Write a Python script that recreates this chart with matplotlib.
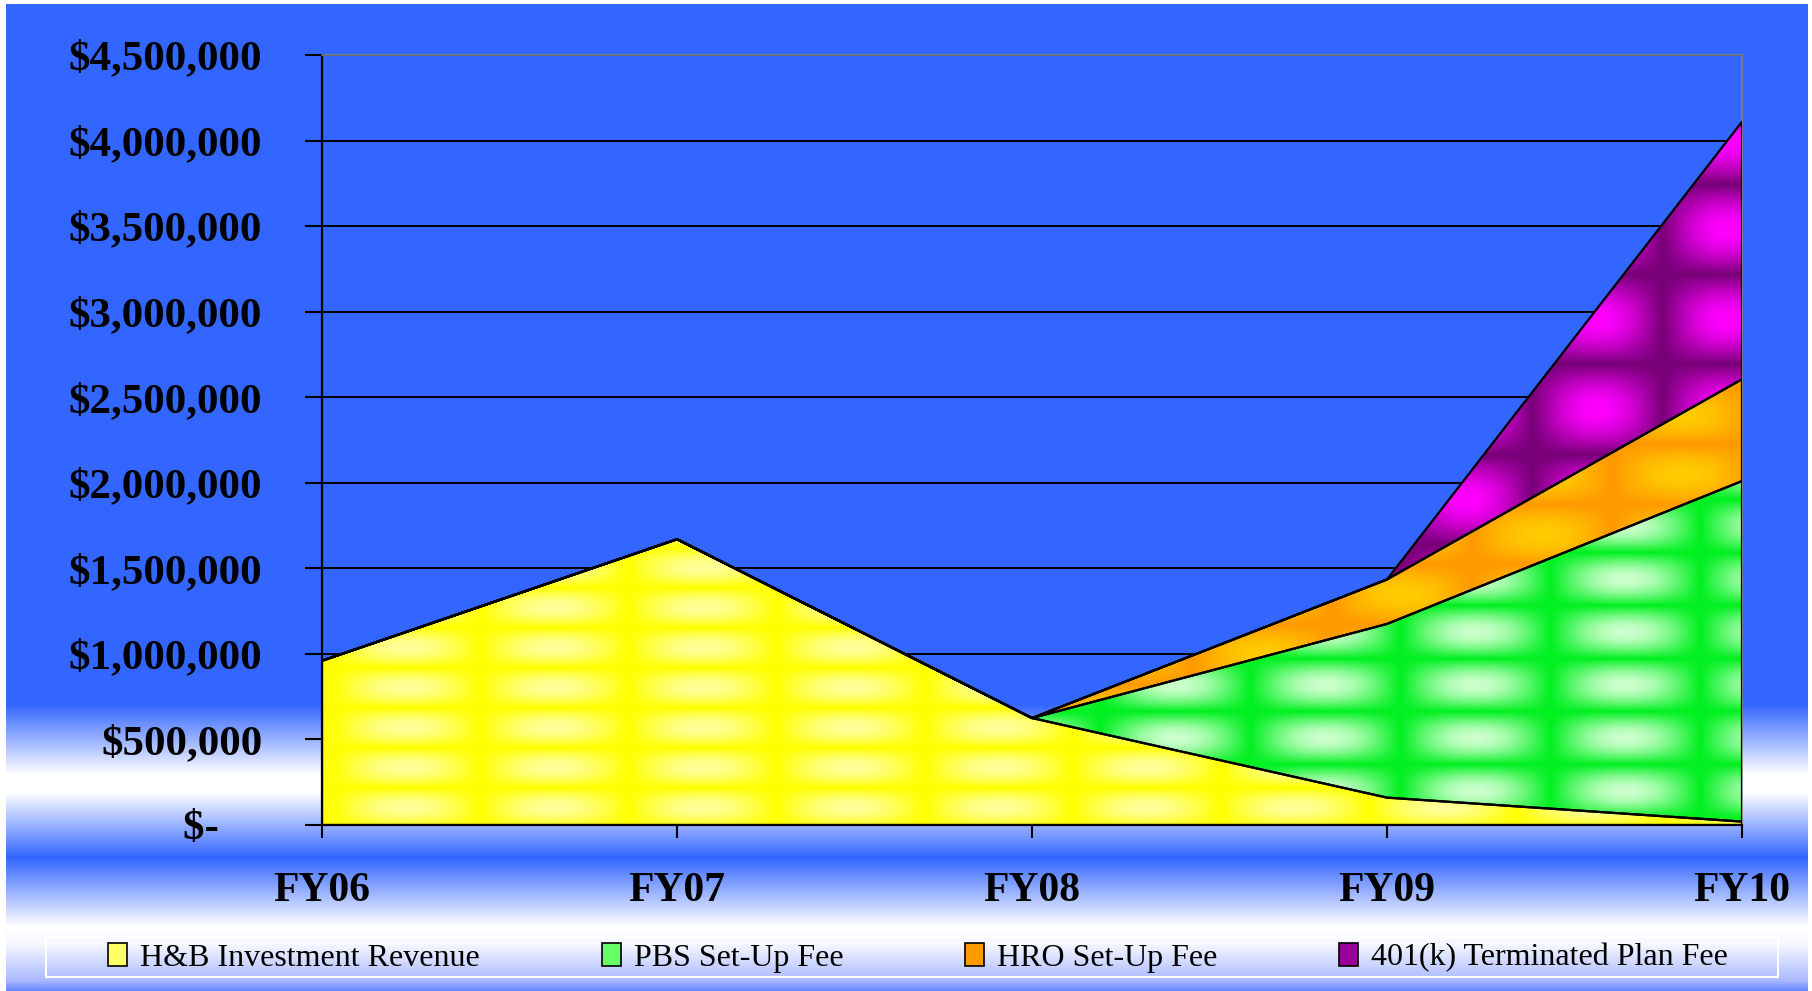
import numpy as np
import matplotlib
matplotlib.use("Agg")
import matplotlib.pyplot as plt
from matplotlib.patches import Patch, Rectangle
from matplotlib.ticker import FuncFormatter, MultipleLocator

# chart data
years = ["FY06", "FY07", "FY08", "FY09", "FY10"]
hb_revenue = [960000, 1670000, 625000, 160000, 20000]
pbs_fee = [0, 0, 0, 1015000, 1990000]
hro_fee = [0, 0, 0, 260000, 595000]
plan_fee = [0, 0, 0, 0, 1505000]
series_names = ["H&B Investment Revenue", "PBS Set-Up Fee",
                "HRO Set-Up Fee", "401(k) Terminated Plan Fee"]

W, H = 1812, 991
serif = "Liberation Serif"

fig = plt.figure(figsize=(W / 100, H / 100), dpi=100, facecolor="white")

# background: blue slide with white bands near the bottom
bg = fig.add_axes([6 / W, 0, 1802 / W, 987 / H], zorder=-1)
bg.axis("off")
stop_y = [0, 700, 770, 788, 853, 922, 940, 976, 987]
stop_c = np.array([[51, 102, 255], [51, 102, 255], [255, 255, 255], [255, 255, 255],
                   [51, 102, 255], [255, 255, 255], [245, 247, 255], [170, 185, 255],
                   [95, 130, 255]]) / 255
yy = np.arange(987)
grad = np.stack([np.interp(yy, stop_y, stop_c[:, k]) for k in range(3)], axis=-1)
bg.imshow(grad[:, None, :], aspect="auto", extent=[0, 1, 0, 1], origin="upper")
bg.set_xlim(0, 1)
bg.set_ylim(0, 1)

# plot area
x0, x1, ytop, ybot = 322, 1742, 55, 825
ax = fig.add_axes([x0 / W, (H - ybot) / H, (x1 - x0) / W, (ybot - ytop) / H])
ax.patch.set_visible(False)
x = np.arange(len(years))
ax.set_xlim(0, len(years) - 1)
ax.set_ylim(0, 4500000)


def texture(sat, pale, px, py, phx, phy):
    # soft tiled pattern, saturated along grid lines and pale in the cells
    w, h = x1 - x0, ybot - ytop
    gx = np.arange(w)[None, :]
    gy = np.arange(h)[:, None]
    u = np.sin(np.pi * (gx - phx) / px) ** 2 * np.sin(np.pi * (gy - phy) / py) ** 2
    u = np.sqrt(u)[..., None]
    sat = np.array(matplotlib.colors.to_rgb(sat))
    pale = np.array(matplotlib.colors.to_rgb(pale))
    return sat + (pale - sat) * u


fills = [
    (hb_revenue, texture("#ffff00", "#ffff99", 148, 40, 10, 37), "#ffff66"),
    (pbs_fee, texture("#00f020", "#ccffcc", 150, 53, 28, 7), "#66ff66"),
    (hro_fee, texture("#ff9900", "#ffcc00", 140, 60, 30, 20), "#ff9900"),
    (plan_fee, texture("#770077", "#ff00ff", 130, 90, 40, 10), "#990099"),
]

lower = np.zeros(len(years))
for vals, tex, _ in fills:
    upper = lower + np.array(vals)
    coll = ax.fill_between(x, lower, upper, facecolor="none", edgecolor="black",
                           linewidth=1.6, zorder=3)
    im = ax.imshow(tex, extent=[0, len(years) - 1, 0, 4500000], origin="lower",
                   aspect="auto", interpolation="bilinear", zorder=1)
    im.set_clip_path(coll.get_paths()[0], transform=ax.transData)
    lower = upper

ax.yaxis.set_major_locator(MultipleLocator(500000))
ax.yaxis.grid(True, color="black", linewidth=1.4)
ax.set_axisbelow(True)
ax.set_xticks(x)
ax.set_xticklabels(years)


def money(v, pos):
    if v == 0:
        return "$-    "
    return "${:,.0f}".format(v)


ax.yaxis.set_major_formatter(FuncFormatter(money))
ax.tick_params(axis="y", direction="out", length=12, width=1.5, pad=31,
               labelsize=31, colors="black")
ax.tick_params(axis="x", direction="out", length=9.5, width=1.5, pad=24,
               labelsize=30, colors="black")
for lab in ax.get_xticklabels() + ax.get_yticklabels():
    lab.set_fontfamily(serif)
    lab.set_fontweight("bold")

for side in ["left", "bottom"]:
    ax.spines[side].set_color("black")
    ax.spines[side].set_linewidth(1.6)
for side in ["top", "right"]:
    ax.spines[side].set_color("#7f7f7f")
    ax.spines[side].set_linewidth(1.2)

# legend box outline, then entries spread inside it
fig.patches.append(Rectangle((46 / W, (H - 977) / H), (1778 - 46) / W, 40 / H,
                             transform=fig.transFigure, facecolor="none",
                             edgecolor="white", linewidth=1.5))
handles = [Patch(facecolor=c, edgecolor="black", linewidth=1.2) for _, _, c in fills]
leg = fig.legend(handles, series_names, loc="center left",
                 bbox_to_anchor=(108 / W, (H - 958) / H, (1728 - 108) / W, 0),
                 mode="expand", ncol=4, frameon=False, borderaxespad=0,
                 borderpad=0, handlelength=0.6, handleheight=0.7,
                 handletextpad=0.4, prop={"family": serif, "size": 23})

fig.savefig("out.png", dpi=100, facecolor="white")
